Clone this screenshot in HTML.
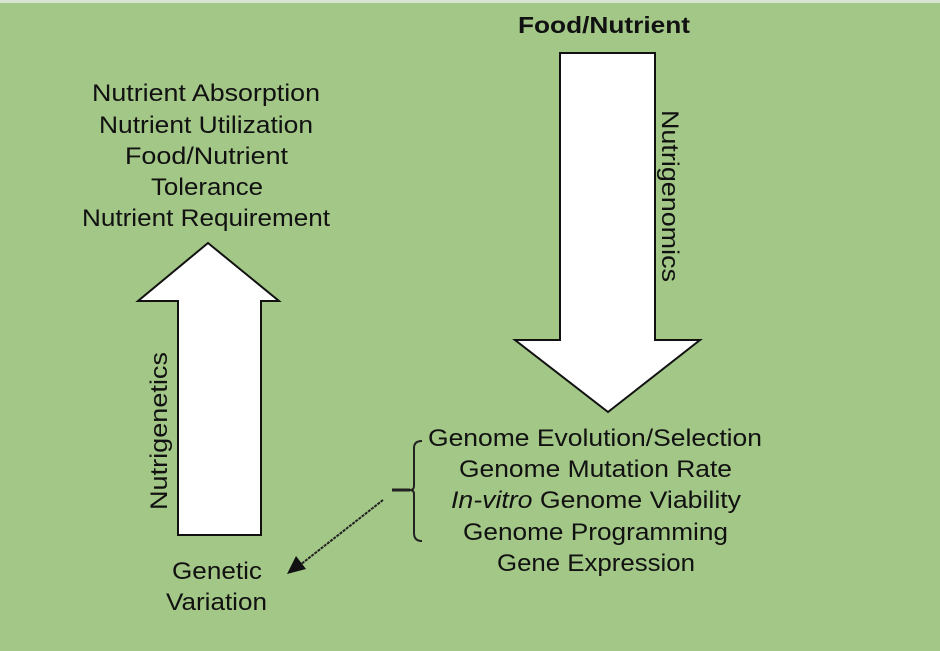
<!DOCTYPE html>
<html><head><style>
html,body{margin:0;padding:0;background:#a3c787;}
svg{display:block;}
text{font-family:"Liberation Sans",sans-serif;font-size:24px;fill:#111;}
</style></head><body>
<svg width="940" height="651" viewBox="0 0 940 651">
<rect x="0" y="0" width="940" height="651" fill="#a3c787"/>
<rect x="0" y="0" width="940" height="3" fill="#d8e4cf"/>
<polygon points="178,535 261,535 261,301 279,301 208,243 138,301 178,301" fill="#fff" stroke="#111" stroke-width="2"/>
<polygon points="560,53 655,53 655,340 700,340 608,412 515,340 560,340" fill="#fff" stroke="#111" stroke-width="2"/>
<text x="518" y="33" font-weight="bold" textLength="172" lengthAdjust="spacingAndGlyphs" style="font-size:23px">Food/Nutrient</text>
<text x="92" y="101" textLength="228" lengthAdjust="spacingAndGlyphs">Nutrient Absorption</text>
<text x="99" y="133" textLength="214" lengthAdjust="spacingAndGlyphs">Nutrient Utilization</text>
<text x="125" y="164" textLength="163" lengthAdjust="spacingAndGlyphs">Food/Nutrient</text>
<text x="151" y="195" textLength="112" lengthAdjust="spacingAndGlyphs">Tolerance</text>
<text x="82" y="226" textLength="248" lengthAdjust="spacingAndGlyphs">Nutrient Requirement</text>
<text x="428" y="446" textLength="334" lengthAdjust="spacingAndGlyphs">Genome Evolution/Selection</text>
<text x="459" y="477" textLength="273" lengthAdjust="spacingAndGlyphs">Genome Mutation Rate</text>
<text x="451" y="508" textLength="290" lengthAdjust="spacingAndGlyphs"><tspan font-style="italic">In-vitro</tspan> Genome Viability</text>
<text x="463" y="540" textLength="265" lengthAdjust="spacingAndGlyphs">Genome Programming</text>
<text x="497" y="571" textLength="198" lengthAdjust="spacingAndGlyphs">Gene Expression</text>
<text x="172" y="579" textLength="90" lengthAdjust="spacingAndGlyphs">Genetic</text>
<text x="166" y="610" textLength="101" lengthAdjust="spacingAndGlyphs">Variation</text>
<text transform="translate(662,110) rotate(90)" textLength="172" lengthAdjust="spacingAndGlyphs">Nutrigenomics</text>
<text transform="translate(167,510) rotate(-90)" textLength="158" lengthAdjust="spacingAndGlyphs">Nutrigenetics</text>
<path d="M422,441 Q414,441 414,448 L414,486 Q414,490 410,490 Q414,490 414,494 L414,533 Q414,541 422,541" fill="none" stroke="#222" stroke-width="2"/>
<line x1="392" y1="490" x2="410" y2="490" stroke="#222" stroke-width="3"/>
<line x1="383" y1="500" x2="300" y2="565" stroke="#222" stroke-width="2" stroke-dasharray="3,1"/>
<polygon points="287,574 296,556 306,569" fill="#111"/>
</svg>
</body></html>
